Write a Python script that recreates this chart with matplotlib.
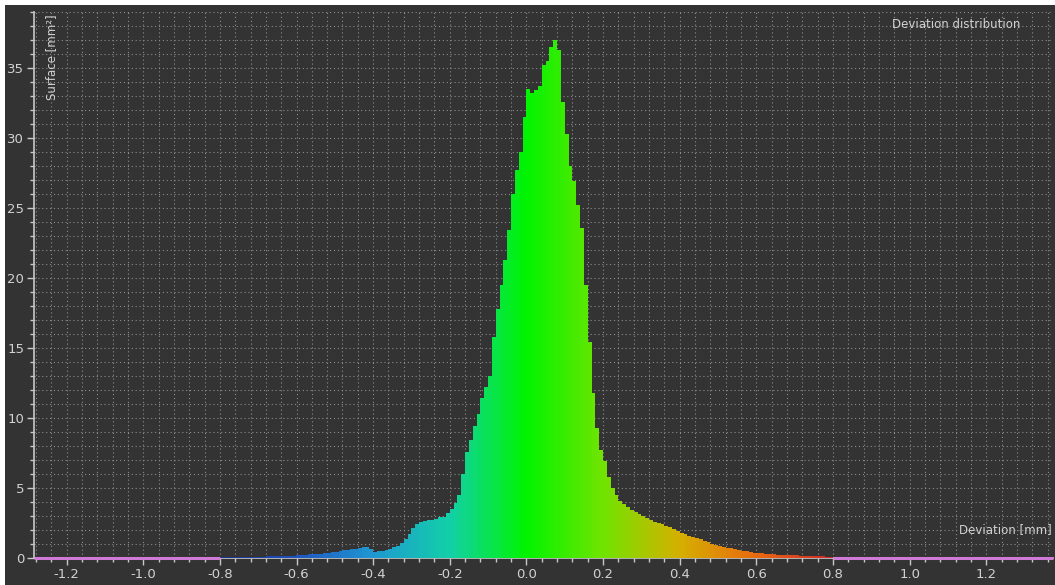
import numpy as np
import matplotlib
matplotlib.use("Agg")
import matplotlib.pyplot as plt
from matplotlib.colors import LinearSegmentedColormap
from matplotlib.patches import Rectangle
from matplotlib.ticker import MultipleLocator

# ---- data (histogram, bin width 0.01 mm, from -0.80 to 0.80) ----
bin_start = -0.80
bin_width = 0.01
surface = [
    0.07, 0.07, 0.07, 0.08, 0.08, 0.08, 0.08, 0.09, 0.09, 0.09,   # -0.80..-0.71
    0.10, 0.10, 0.11, 0.11, 0.12, 0.12, 0.13, 0.14, 0.16, 0.17,   # -0.70..-0.61
    0.19, 0.21, 0.23, 0.26, 0.28, 0.30, 0.32, 0.35, 0.38, 0.41,   # -0.60..-0.51
    0.45, 0.50, 0.54, 0.58, 0.62, 0.66, 0.70, 0.76, 0.80, 0.62,   # -0.50..-0.41
    0.45, 0.48, 0.52, 0.58, 0.66, 0.76, 0.85, 1.05, 1.35, 1.75,   # -0.40..-0.31
    2.15, 2.45, 2.60, 2.65, 2.70, 2.75, 2.80, 2.90, 2.95, 3.20,   # -0.30..-0.21
    3.50, 3.90, 4.50, 6.00, 7.60, 8.40, 9.40, 10.3, 11.4, 12.2,   # -0.20..-0.11
    13.0, 15.8, 17.8, 19.5, 21.3, 23.4, 26.0, 27.7, 29.0, 31.5,   # -0.10..-0.01
    33.5, 33.2, 33.4, 33.7, 35.2, 35.5, 36.5, 37.0, 36.3, 32.6,   # 0.00..0.09
    30.3, 28.0, 26.9, 25.2, 23.6, 19.5, 15.4, 11.8, 9.30, 7.70,   # 0.10..0.19
    6.90, 5.80, 5.00, 4.50, 4.10, 3.85, 3.65, 3.45, 3.30, 3.15,   # 0.20..0.29
    3.00, 2.85, 2.70, 2.60, 2.50, 2.40, 2.30, 2.20, 2.05, 1.90,   # 0.30..0.39
    1.80, 1.70, 1.55, 1.50, 1.45, 1.35, 1.22, 1.12, 1.03, 0.95,   # 0.40..0.49
    0.87, 0.80, 0.74, 0.68, 0.62, 0.57, 0.52, 0.47, 0.43, 0.39,   # 0.50..0.59
    0.36, 0.33, 0.31, 0.29, 0.27, 0.25, 0.23, 0.21, 0.20, 0.19,   # 0.60..0.69
    0.18, 0.17, 0.16, 0.15, 0.14, 0.13, 0.12, 0.11, 0.10, 0.09,   # 0.70..0.79
]
x_ticks = [-1.2, -1.0, -0.8, -0.6, -0.4, -0.2, 0.0, 0.2, 0.4, 0.6, 0.8, 1.0, 1.2]
y_ticks = [0, 5, 10, 15, 20, 25, 30, 35]
x_limits = (-1.285, 1.374)
y_limits = (0, 39)
color_range = (-0.8, 0.8)

# ---- style ----
BG = "#333333"
FG = "#d2d2d2"
GRID = "#8c8c8c"
plt.rcParams['font.family'] = ['DejaVu Sans']

cmap = LinearSegmentedColormap.from_list("dev", [
    (0.000, "#1a2f8c"),
    (0.125, "#1f55c0"),
    (0.250, "#1f98d2"),
    (0.375, "#12d0a8"),
    (0.500, "#00f400"),
    (0.625, "#70e400"),
    (0.750, "#d4b000"),
    (0.875, "#e86a10"),
    (1.000, "#d02828"),
])

fig = plt.figure(figsize=(10.55, 5.85), dpi=100, facecolor="white")
fig.patches.append(Rectangle((5 / 1055, 0), 1, 1 - 5 / 585, transform=fig.transFigure,
                             facecolor=BG, edgecolor="none", zorder=-10))

W, H = 1055, 585
ax = fig.add_axes([34 / W, (H - 558) / H, (1053 - 34) / W, (558 - 12) / H])
ax.set_facecolor(BG)

edges = bin_start + bin_width * np.arange(len(surface) + 1)
centers = edges[:-1] + bin_width / 2
norm = (centers - color_range[0]) / (color_range[1] - color_range[0])
colors = cmap(np.clip(norm, 0, 1))
ax.bar(centers, surface, width=bin_width * 1.02, color=colors, edgecolor="none",
       align="center", zorder=3)

# pink baseline outside the colour range
ax.plot([x_limits[0], color_range[0]], [0, 0], color="#cf7ad6", lw=2.2, zorder=4,
        solid_capstyle="butt", clip_on=False)
ax.plot([color_range[1], x_limits[1]], [0, 0], color="#cf7ad6", lw=2.2, zorder=4,
        solid_capstyle="butt", clip_on=False)

ax.set_xlim(*x_limits)
ax.set_ylim(*y_limits)
ax.set_xticks(x_ticks)
ax.set_xticklabels([f"{v:.1f}" for v in x_ticks])
ax.set_yticks(y_ticks)
ax.xaxis.set_minor_locator(MultipleLocator(0.04))
ax.yaxis.set_minor_locator(MultipleLocator(1))

for s in ["top", "right"]:
    ax.spines[s].set_visible(False)
for s in ["left", "bottom"]:
    ax.spines[s].set_color("#c8c8c8")
    ax.spines[s].set_linewidth(1.2)
    ax.spines[s].set_zorder(2)

ax.tick_params(which="major", colors="#c8c8c8", labelcolor=FG, labelsize=9.5,
               length=5, width=1, direction="out", pad=2)
ax.tick_params(which="minor", colors="#c8c8c8", length=3, width=1, direction="out")

ax.grid(which="both", color=GRID, linestyle=(0, (1, 2.5)), linewidth=0.8, zorder=1)
ax.set_axisbelow(True)

ax.text(52 / W, 1 - 14 / H, "Surface [mm²]", transform=fig.transFigure, rotation=90,
        ha="center", va="top", color=FG, fontsize=8.5)
ax.text(1020 / W, 1 - 24 / H, "Deviation distribution", transform=fig.transFigure,
        ha="right", va="center", color=FG, fontsize=8.5)
ax.text(1052 / W, 1 - 530 / H, "Deviation [mm]", transform=fig.transFigure,
        ha="right", va="center", color=FG, fontsize=8.5)

fig.savefig("out.png", dpi=100, facecolor="white")
